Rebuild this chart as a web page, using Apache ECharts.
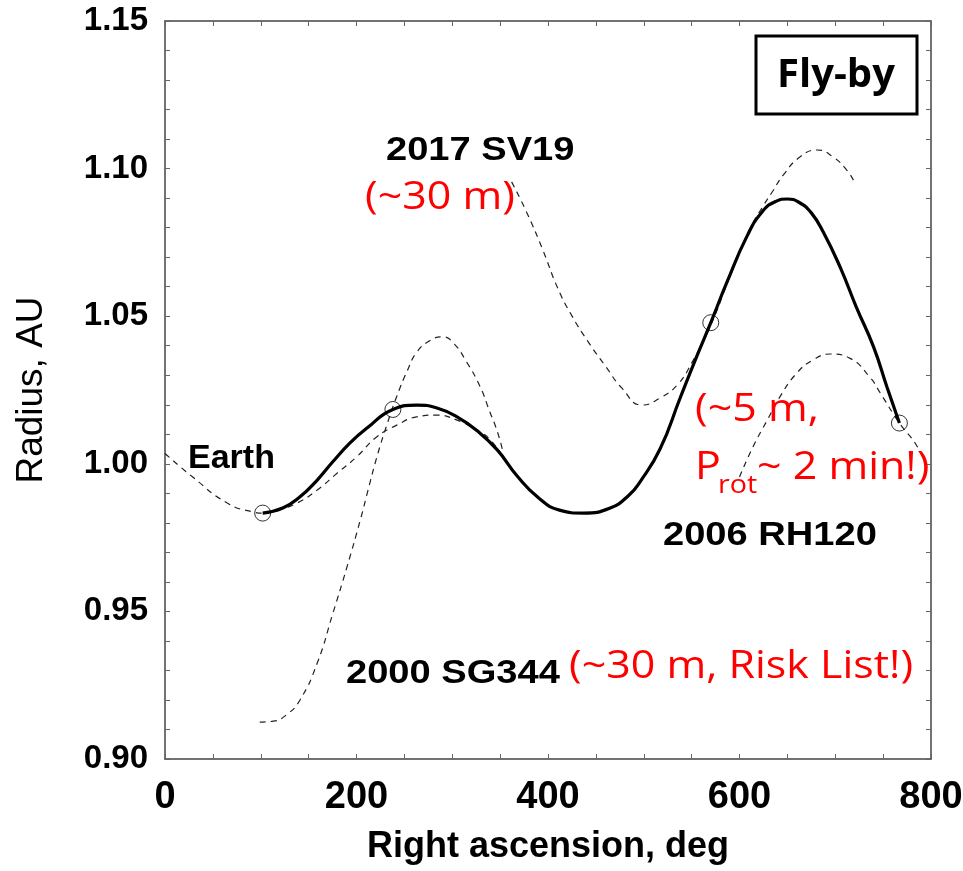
<!DOCTYPE html>
<html><head><meta charset="utf-8">
<script src="https://cdn.jsdelivr.net/npm/echarts@6/dist/echarts.min.js"></script>
<style>html,body{margin:0;padding:0;background:#fff}#c{width:963px;height:871px}</style>
</head><body><div id="c"></div>
<script>
// Solid trajectory (deg, AU)
const trajectoryRA = [102, 123, 141, 159, 175, 193, 211, 238, 263, 284, 305, 326, 347, 368, 390, 412, 437, 465, 485, 496, 517, 538, 556, 570, 587, 608, 624, 638, 650, 662, 675, 688, 705, 722, 740, 754, 767];
const trajectoryR  = [0.9833, 0.9850, 0.9888, 0.9945, 1.0006, 1.0070, 1.0121, 1.0184, 1.0199, 1.0189, 1.0159, 1.0112, 1.0047, 0.9958, 0.9885, 0.9843, 0.9833, 0.9850, 0.9895, 0.9938, 1.0050, 1.0223, 1.0369, 1.0478, 1.0616, 1.0772, 1.0855, 1.0889, 1.0897, 1.0886, 1.0850, 1.0782, 1.0667, 1.0531, 1.0396, 1.0260, 1.0138];
// Earth (dashed)
const earthRA = [0, 29, 65, 92, 103, 120, 138, 159, 180, 200, 221, 242, 263, 284, 305, 326, 340, 353];
const earthR  = [1.0035, 0.9955, 0.9867, 0.9837, 0.9833, 0.9845, 0.9867, 0.9911, 0.9969, 1.0023, 1.0091, 1.0131, 1.0159, 1.0165, 1.0148, 1.0114, 1.0080, 1.0023];
// 2000 SG344 (dashed)
const sg344RA = [99, 113, 127, 141, 159, 175, 190, 204, 212, 221, 232, 242, 253, 263, 277, 290, 301, 315, 329, 339, 347, 353];
const sg344R  = [0.9125, 0.9128, 0.9150, 0.9200, 0.9325, 0.9490, 0.9650, 0.9810, 0.9910, 1.0020, 1.0135, 1.0228, 1.0315, 1.0378, 1.0418, 1.0430, 1.0410, 1.0345, 1.0262, 1.0178, 1.0110, 1.0040];
// 2017 SV19 (dashed)
const sv19RA = [362, 378, 395, 410, 425, 442, 460, 477, 498, 517, 535, 550, 570, 590, 610, 625, 635, 645, 663, 681, 698, 712, 719];
const sv19R  = [1.0955, 1.0850, 1.0721, 1.0596, 1.0501, 1.0413, 1.0331, 1.0257, 1.0199, 1.0223, 1.0267, 1.0341, 1.0470, 1.0635, 1.0790, 1.0875, 1.0925, 1.0975, 1.1039, 1.1063, 1.1039, 1.0995, 1.0961];
// 2006 RH120 (dashed)
const rh120RA = [600, 614, 629, 642, 660, 677, 695, 715, 736, 747, 767, 785, 796];
const rh120R  = [0.9955, 1.0057, 1.0148, 1.0226, 1.0308, 1.0352, 1.0372, 1.0358, 1.0294, 1.0240, 1.0138, 1.0062, 0.9985];
// Encounter markers (open circles)
const markRA = [102, 238, 570, 767];
const markR  = [0.9833, 1.0184, 1.0478, 1.0138];

const xTickValues = [0, 200, 400, 600, 800];
const yTickValues = [0.90, 0.95, 1.00, 1.05, 1.10, 1.15];

function zip(a, b) { return a.map((v, i) => [v, b[i]]); }

const chart = echarts.init(document.getElementById('c'), null, {renderer: 'canvas'});
const frameColor = '#444';
const tickStyle = {color: '#666', width: 1};

function xAx(pos, showLabel) {
  return {
    type: 'value', position: pos, min: xTickValues[0], max: xTickValues[xTickValues.length - 1], interval: 200,
    axisLine: {show: true, onZero: false, lineStyle: {color: frameColor, width: 1.5}},
    axisTick: {show: true, inside: true, length: 5, lineStyle: tickStyle},
    minorTick: {show: true, splitNumber: 4, length: 5, lineStyle: tickStyle},
    splitLine: {show: false},
    axisLabel: {show: showLabel, color: '#000', fontFamily: 'Liberation Sans', fontWeight: 'bold', fontSize: 38, margin: 20},
    name: showLabel ? 'Right ascension, deg' : '', nameLocation: 'middle', nameGap: 70, nameMoveOverlap: false,
    nameTextStyle: {color: '#000', fontFamily: 'Liberation Sans', fontWeight: 'bold', fontSize: 36}
  };
}
function yAx(pos, showLabel) {
  return {
    type: 'value', position: pos, min: yTickValues[0], max: yTickValues[yTickValues.length - 1], interval: 0.05,
    axisLine: {show: true, onZero: false, lineStyle: {color: frameColor, width: 1.5}},
    axisTick: {show: true, inside: true, length: 5, lineStyle: tickStyle},
    minorTick: {show: true, splitNumber: 5, length: 5, lineStyle: tickStyle},
    splitLine: {show: false},
    axisLabel: {show: showLabel, color: '#000', fontFamily: 'Liberation Sans', fontWeight: 'bold', fontSize: 33, margin: 17,
      formatter: v => v.toFixed(2)},
    name: showLabel ? 'Radius, AU' : '', nameLocation: 'middle', nameGap: 115, nameRotate: 90, nameMoveOverlap: false,
    nameTextStyle: {color: '#000', fontFamily: 'Liberation Sans', fontWeight: 'normal', fontSize: 37}
  };
}

const dashStyle = {color: '#222', width: 1.2, type: [6, 5]};
function dashed(name, ra, r) {
  return {name, type: 'line', data: zip(ra, r), smooth: 0.5, symbol: 'none', lineStyle: dashStyle, z: 2};
}

const red = '#ff0000';
function redText(x, y, text, size, sx) {
  return {type: 'text', x, y, scaleX: sx || 1.13, z: 10,
    style: {text, fill: red, fontFamily: 'Open Sans', fontSize: size || 38, align: 'left', verticalAlign: 'middle'}};
}
function blackText(x, y, text, sx) {
  return {type: 'text', x, y, scaleX: sx || 1.12, z: 10,
    style: {text, fill: '#000', fontFamily: 'Liberation Sans', fontWeight: 'bold', fontSize: 34, align: 'left', verticalAlign: 'middle'}};
}

chart.setOption({
  animation: false,
  backgroundColor: '#fff',
  grid: {left: 165, right: 32, top: 21, bottom: 112, containLabel: false, outerBoundsMode: 'none', show: false},
  xAxis: [xAx('bottom', true), xAx('top', false)],
  yAxis: [yAx('left', true), yAx('right', false)],
  series: [
    dashed('Earth', earthRA, earthR),
    dashed('2000 SG344', sg344RA, sg344R),
    dashed('2017 SV19', sv19RA, sv19R),
    dashed('2006 RH120', rh120RA, rh120R),
    {name: 'Trajectory', type: 'line', data: zip(trajectoryRA, trajectoryR), smooth: 0.5, symbol: 'none',
      lineStyle: {color: '#000', width: 3.2}, z: 3},
    {name: 'Encounters', type: 'scatter', data: zip(markRA, markR), symbol: 'circle', symbolSize: 16,
      itemStyle: {color: 'rgba(0,0,0,0)', borderColor: '#000', borderWidth: 1}, z: 4}
  ],
  graphic: [
    {type: 'rect', shape: {x: 756, y: 36, width: 161, height: 78}, style: {fill: '#fff', stroke: '#000', lineWidth: 3}, z: 10},
    {type: 'text', x: 836, y: 76, z: 11, style: {text: 'Fly-by', fill: '#000', fontFamily: 'Open Sans', fontWeight: 'bold', fontSize: 40, align: 'center', verticalAlign: 'middle'}},
    blackText(386, 151, '2017 SV19'),
    blackText(188, 459, 'Earth', 1.0),
    blackText(346, 674, '2000 SG344'),
    blackText(663, 536, '2006 RH120'),
    redText(365, 198, '(~30 m)'),
    redText(695, 410, '(~5 m,'),
    redText(695, 468, 'P'),
    redText(718, 486, 'rot', 26, 1.1),
    redText(757, 468, '~ 2 min!)'),
    redText(569, 667, '(~30 m, Risk List!)')
  ]
});
</script>
</body></html>
